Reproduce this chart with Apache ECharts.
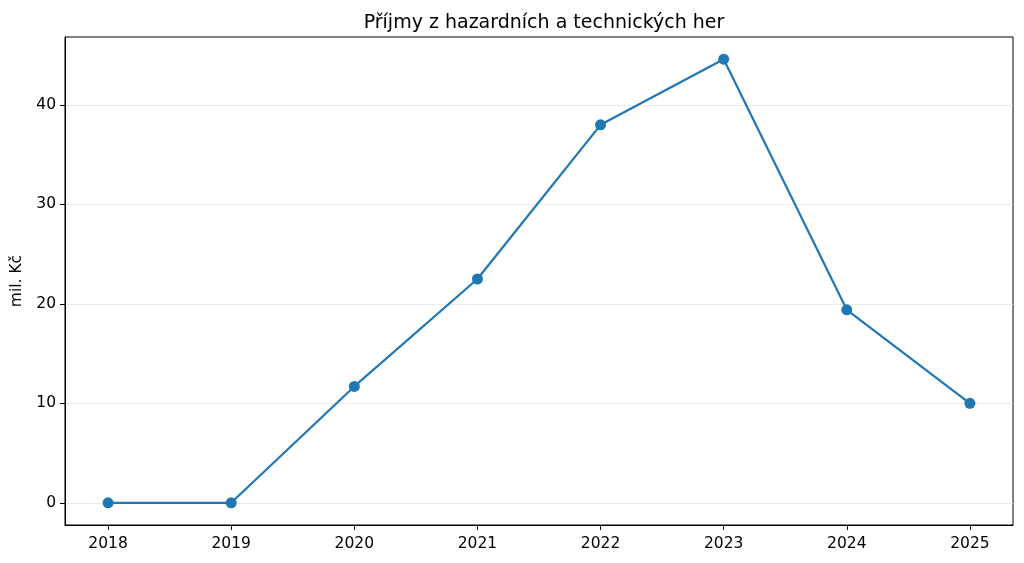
<!DOCTYPE html>
<html lang="cs">
<head>
    <meta charset="UTF-8">
    <title>Příjmy z hazardních a technických her</title>
    <script type="text/javascript" src="https://cdn.jsdelivr.net/npm/echarts@6/dist/echarts.min.js"></script>
    <style>
        html, body { margin: 0; padding: 0; background: #fff; }
    </style>
</head>
<body>
<div id="chart" style="width: 1024px;height:563px;"></div>
<script type="text/javascript">
    // roky a hodnoty (mil. Kč)
    const years = [2018, 2019, 2020, 2021, 2022, 2023, 2024, 2025];
    const values = [0, 0, 11.7, 22.5, 38.0, 44.6, 19.4, 10.0];
    const yTicks = [0, 10, 20, 30, 40];

    const font = 'DejaVu Sans';

    let option = {
        animation: false,
        backgroundColor: '#fff',
        title: {
            text: 'Příjmy z hazardních a technických her',
            left: 539,
            textAlign: 'center',
            top: 9,
            textStyle: {
                fontFamily: font,
                fontSize: 19,
                fontWeight: 'normal',
                color: '#000'
            }
        },
        grid: {
            left: 65,
            right: 11,
            top: 37,
            bottom: 38,
            show: true,
            borderColor: '#000',
            borderWidth: 1,
            backgroundColor: 'transparent'
        },
        xAxis: {
            type: 'value',
            min: 2017.65,
            max: 2025.35,
            axisLine: { show: true, onZero: false, lineStyle: { color: '#000', width: 1 } },
            axisTick: {
                show: true,
                length: 5,
                lineStyle: { color: '#000' },
                customValues: years
            },
            axisLabel: {
                color: '#000',
                fontFamily: font,
                fontSize: 15.5,
                margin: 11,
                customValues: years,
                formatter: v => String(v)
            },
            splitLine: { show: false }
        },
        yAxis: {
            type: 'value',
            min: -2.23,
            max: 46.83,
            name: 'mil. Kč',
            nameLocation: 'middle',
            nameGap: 38,
            nameTextStyle: {
                fontFamily: font,
                fontSize: 15.5,
                color: '#000'
            },
            axisLine: { show: true, lineStyle: { color: '#000', width: 1 } },
            axisTick: {
                show: true,
                length: 5,
                lineStyle: { color: '#000' },
                customValues: yTicks
            },
            axisLabel: {
                color: '#000',
                fontFamily: font,
                fontSize: 15.5,
                margin: 9,
                customValues: yTicks
            },
            splitLine: {
                show: true,
                lineStyle: { color: '#ebebeb', width: 1 }
            }
        },
        series: [
            {
                type: 'line',
                data: years.map((y, i) => [y, values[i]]),
                symbol: 'circle',
                symbolSize: 11,
                lineStyle: { color: '#1f77b4', width: 2.2 },
                itemStyle: { color: '#1f77b4' }
            }
        ]
    };
    echarts.init(document.getElementById('chart')).setOption(option);
</script>
</body>
</html>
